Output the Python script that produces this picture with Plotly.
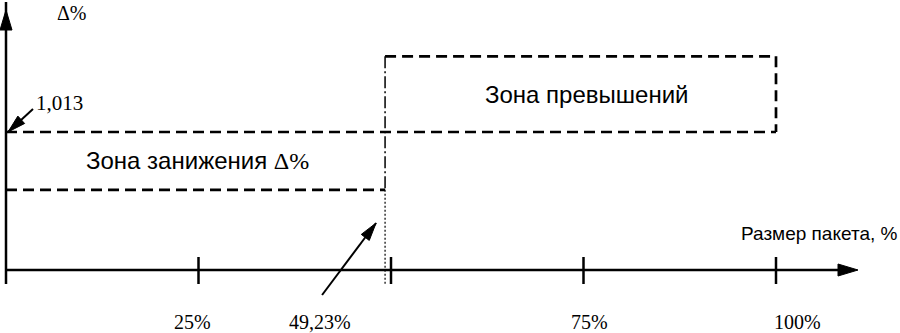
import math
import plotly.graph_objects as go

# ---------------- data ----------------
x_ticks = [25, 50, 75, 100]
x_tick_labels = ["25%", "", "75%", "100%"]
threshold_pct = 49.23
threshold_label = "49,23%"
delta_ref = 1.013
delta_ref_label = "1,013"
lower_zone_level = 1.000
upper_zone_level = 1.030
axis_base = 0.982
x_max = 100
y_axis_title = "Δ%"
x_axis_title = "Размер пакета, %"
zone_over_text = "Зона превышений"
zone_under_text = "Зона занижения "

# ---------------- layout / scale (styling) ----------------
W, H = 900, 333
X0PX, SX = 6.0, 7.70      # pixel of x=0, pixels per percent
Y0PX, SY = 270.0, 4452.0  # pixel of axis_base, pixels per unit
BLACK = "black"
SERIF = "Liberation Serif, Times New Roman, serif"
SANS = "Liberation Sans, Arial, sans-serif"


def to_px(x, y):
    return X0PX + x * SX, Y0PX - (y - axis_base) * SY


def to_data(px, py):
    return (px - X0PX) / SX, axis_base + (Y0PX - py) / SY


def shifted(x, y, dpx, dpy):
    px, py = to_px(x, y)
    return to_data(px + dpx, py + dpy)


fig = go.Figure()


def add_line(xs, ys, width=2.5, dash="solid"):
    fig.add_trace(go.Scatter(x=xs, y=ys, mode="lines",
                             line=dict(color=BLACK, width=width, dash=dash),
                             hoverinfo="skip", showlegend=False))


def add_head(tip, tail, length, width):
    """Filled triangular arrow head at tip (data), direction from tail."""
    tx, ty = to_px(*tip)
    sx, sy = to_px(*tail)
    d = math.hypot(tx - sx, ty - sy)
    ux, uy = (tx - sx) / d, (ty - sy) / d
    nx, ny = -uy, ux
    bx, by = tx - length * ux, ty - length * uy
    pts = [(tx, ty), (bx + nx * width / 2, by + ny * width / 2),
           (bx - nx * width / 2, by - ny * width / 2), (tx, ty)]
    dpts = [to_data(px, py) for px, py in pts]
    fig.add_trace(go.Scatter(x=[p[0] for p in dpts], y=[p[1] for p in dpts],
                             mode="lines", fill="toself", fillcolor=BLACK,
                             line=dict(color=BLACK, width=1),
                             hoverinfo="skip", showlegend=False))


# ---- axes ----
x_tip = to_data(858, Y0PX)[0]
add_line([0, x_tip - 8 / SX], [axis_base, axis_base], width=2.5)
add_head((x_tip, axis_base), (0, axis_base), 20, 12)

y_bottom = shifted(0, axis_base, 0, 14)[1]
y_tip = to_data(X0PX, 10)[1]
add_line([0, 0], [y_bottom, y_tip + 8 / SY], width=2.5)
add_head((0, y_tip), (0, axis_base), 20, 12)

# ticks
tick_lo = shifted(0, axis_base, 0, 14)[1]
tick_hi = shifted(0, axis_base, 0, -13)[1]
for xt in x_ticks:
    add_line([xt, xt], [tick_lo, tick_hi], width=2.5)

# ---- zones ----
DASH = "11px,6px"
add_line([0, x_max], [delta_ref, delta_ref], width=2.7, dash=DASH)
add_line([0, threshold_pct], [lower_zone_level, lower_zone_level], width=2.7, dash=DASH)
add_line([threshold_pct, x_max, x_max], [upper_zone_level, upper_zone_level, delta_ref],
         width=2.7, dash=DASH)
add_line([threshold_pct, threshold_pct], [upper_zone_level, lower_zone_level],
         width=1.5, dash="12px,3px,2px,3px")
add_line([threshold_pct, threshold_pct], [lower_zone_level, y_bottom],
         width=1.2, dash="2px,2px")

# ---- pointer arrows ----
# 1,013 pointer
tip1 = shifted(0, delta_ref, 2, 0)
tail1 = shifted(0, delta_ref, 27, -23)
add_line([tail1[0], tip1[0]], [tail1[1], tip1[1]], width=2)
add_head(tip1, tail1, 18, 10)

# 49,23 % pointer
tip2 = shifted(threshold_pct, axis_base, -9, -47)
tail2 = shifted(threshold_pct, axis_base, -63, 25)
add_line([tail2[0], tip2[0]], [tail2[1], tip2[1]], width=2)
add_head(tip2, tail2, 18, 10)

# ---- texts ----
ann = []
ann.append(dict(x=0, y=y_tip, text=y_axis_title, xshift=66, yshift=-3,
                font=dict(family=SERIF, size=20, color=BLACK)))
ann.append(dict(x=0, y=delta_ref, text=delta_ref_label, xshift=53, yshift=29,
                font=dict(family=SERIF, size=21, color=BLACK)))
ann.append(dict(x=(threshold_pct + x_max) / 2, y=(upper_zone_level + delta_ref) / 2,
                text=zone_over_text, xshift=6, yshift=0,
                font=dict(family=SANS, size=24, color=BLACK)))
ann.append(dict(x=threshold_pct / 2, y=(delta_ref + lower_zone_level) / 2,
                text=zone_under_text + "<span style='font-family:Liberation Serif'>Δ%</span>",
                xshift=2, yshift=0,
                font=dict(family=SANS, size=24, color=BLACK)))
ann.append(dict(x=1, xref="paper", y=axis_base, text=x_axis_title, xanchor="right",
                yshift=37, font=dict(family=SANS, size=19, color=BLACK)))
label_xshift = [-6, 0, 6, 21]
for xt, lab, xs in zip(x_ticks, x_tick_labels, label_xshift):
    if lab:
        ann.append(dict(x=xt, y=axis_base, text=lab, xshift=xs, yshift=-52,
                        font=dict(family=SERIF, size=20, color=BLACK)))
ann.append(dict(x=threshold_pct, y=axis_base, text=threshold_label, xshift=-65, yshift=-52,
                font=dict(family=SERIF, size=20, color=BLACK)))
for a in ann:
    a.setdefault("xref", "x")
    a["yref"] = "y"
    a["showarrow"] = False

fig.update_layout(
    width=W, height=H,
    margin=dict(l=0, r=0, t=0, b=0),
    paper_bgcolor="white", plot_bgcolor="white",
    xaxis=dict(visible=False, range=[-X0PX / SX, (W - X0PX) / SX]),
    yaxis=dict(visible=False, range=[axis_base - (H - Y0PX) / SY, axis_base + Y0PX / SY]),
    annotations=ann,
    showlegend=False,
    hovermode=False,
)

fig.write_html("out.html",
               config={"displayModeBar": False},
               post_script="document.body.style.margin='0px';document.body.style.overflow='hidden';")
